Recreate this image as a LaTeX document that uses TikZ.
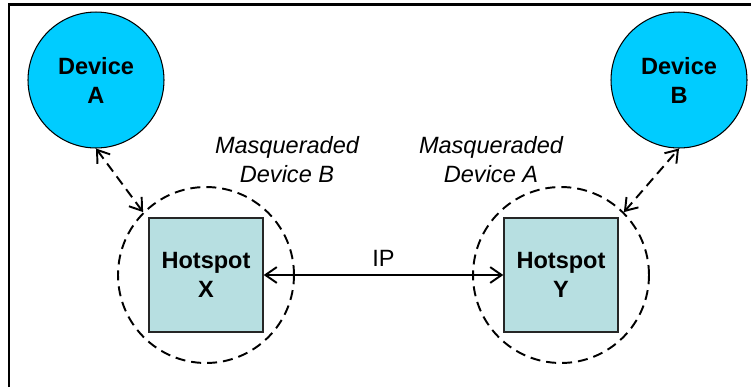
\documentclass[tikz,border=0pt]{standalone}
\usepackage{fontspec}
\setmainfont{Liberation Sans}
\usepackage{tikz}
\usetikzlibrary{arrows.meta}

\definecolor{devcyan}{RGB}{0,204,255}
\definecolor{hotblue}{RGB}{183,223,225}

\tikzset{
  device/.style={circle, draw=black, line width=0.6pt, fill=devcyan, minimum size=2.72cm,
    inner sep=0pt, align=center, font=\fontsize{13.4}{16.5}\selectfont\bfseries},
  hotspot/.style={rectangle, draw=black!85, line width=0.8pt, fill=hotblue, minimum size=2.28cm,
    inner sep=0pt, align=center, font=\fontsize{13.4}{16.5}\selectfont\bfseries},
  ring/.style={circle, draw=black, line width=1.1pt, dash pattern=on 5.7pt off 3.4pt,
    minimum size=3.52cm, inner sep=0pt},
  masq/.style={align=center, font=\fontsize{13.4}{16.5}\selectfont\itshape},
  dashlink/.style={line width=1.1pt, dash pattern=on 5.7pt off 3.4pt,
    {Straight Barb[length=6.5pt,width=9pt]}-{Straight Barb[length=6.5pt,width=9pt]}},
  iplink/.style={line width=1.1pt,
    {Straight Barb[length=6.5pt,width=9pt]}-{Straight Barb[length=6.5pt,width=9pt]}}
}

\begin{document}
\begin{tikzpicture}[x=0.02cm,y=-0.02cm]
\useasboundingbox (0,0) rectangle (751,387);

%%Frame
\draw[line width=1.7pt] (9,387) -- (9,4.5) -- (751,4.5);

%%Devices
\node (devA) at (96,80) [device] {Device\\A};
\node (devB) at (679,80) [device] {Device\\B};

%%Hotspots
\node (ringX) at (206,275) [ring] {};
\node (ringY) at (561,275) [ring] {};
\node (hotX) at (206,275) [hotspot] {Hotspot\\X};
\node (hotY) at (561,275) [hotspot] {Hotspot\\Y};

\node (masqB) at (287,160) [masq] {Masqueraded\\Device B};
\node (masqA) at (491,160) [masq] {Masqueraded\\Device A};

%%Links
\draw[dashlink] (devA.south) -- (ringX.135);
\draw[dashlink] (ringY.45) -- (devB.south);
\draw[iplink] (hotX.east) -- (hotY.west) node (ip) [midway, above=1pt, font=\fontsize{13.4}{16.5}\selectfont] {IP};

\end{tikzpicture}
\end{document}
